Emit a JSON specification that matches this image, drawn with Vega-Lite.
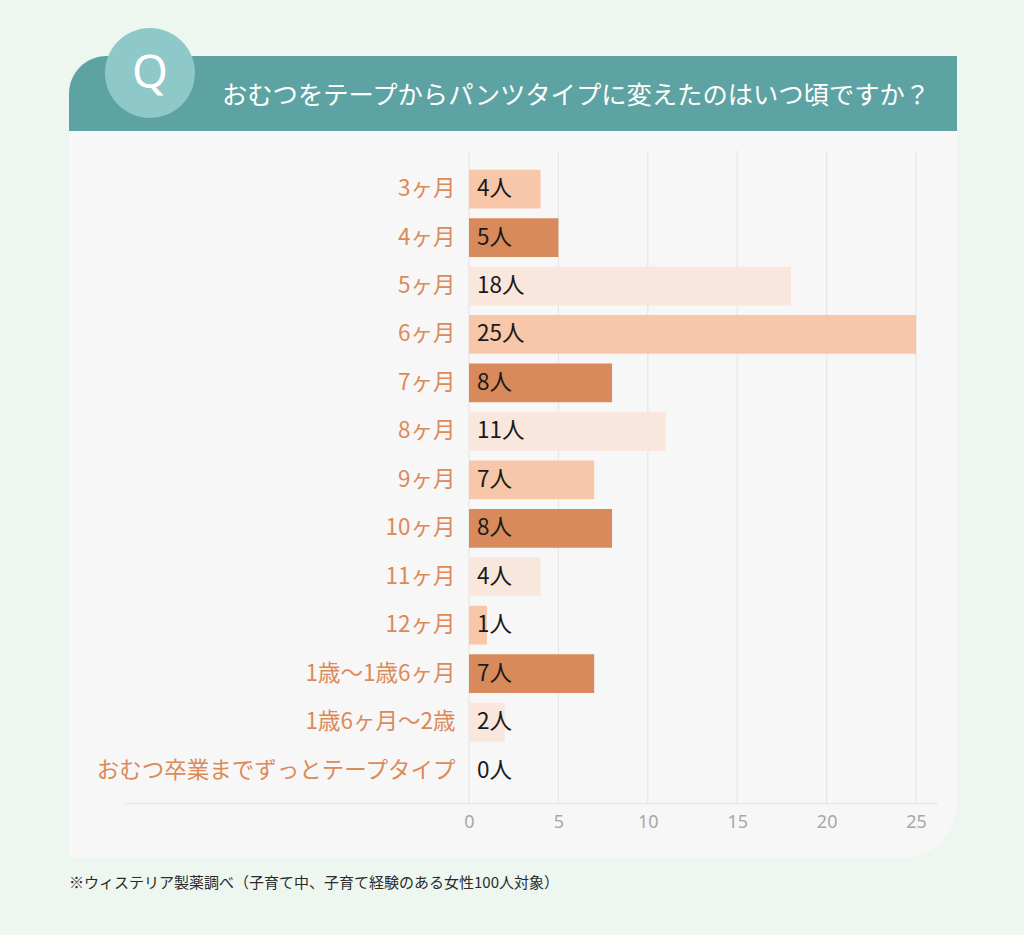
{
  "$schema": "https://vega.github.io/schema/vega-lite/v6.json",
  "autosize": {"type": "pad"},
  "padding": {"left": 69, "top": 27, "right": 67, "bottom": 0},
  "background": "#eef6f0",
  "config": {
    "view": {"stroke": null},
    "font": "Noto Sans CJK JP",
    "text": {"font": "Noto Sans CJK JP"}
  },
  "bounds": "flush",
  "spacing": 0,
  "resolve": {"scale": {"x": "independent", "y": "independent"}},
  "vconcat": [
    {
      "width": 888,
      "height": 113,
      "data": {"values": [{"q": "Q", "title": "おむつをテープからパンツタイプに変えたのはいつ頃ですか？"}]},
      "layer": [
        {
          "mark": {"type": "rect", "color": "#f7f7f7"},
          "encoding": {
            "x": {"datum": 0, "type": "quantitative", "scale": {"domain": [0, 113]}, "axis": null},
            "x2": {"datum": 113},
            "y": {"datum": 0, "type": "quantitative", "scale": {"domain": [0, 113]}, "axis": null},
            "y2": {"datum": 11}
          }
        },
        {
          "mark": {"type": "rect", "color": "#5ea3a3", "cornerRadiusTopLeft": 60},
          "encoding": {
            "x": {"datum": 0, "type": "quantitative", "scale": {"domain": [0, 113]}, "axis": null},
            "x2": {"datum": 113},
            "y": {"datum": 10, "type": "quantitative", "scale": {"domain": [0, 113]}, "axis": null},
            "y2": {"datum": 85}
          }
        },
        {
          "mark": {"type": "point", "shape": "circle", "filled": true, "color": "#8fc8c8", "opacity": 1, "size": 8100},
          "encoding": {
            "x": {"datum": 10.3, "type": "quantitative", "scale": {"domain": [0, 113]}, "axis": null},
            "y": {"datum": 68, "type": "quantitative", "scale": {"domain": [0, 113]}, "axis": null}
          }
        },
        {
          "mark": {"type": "text", "color": "#ffffff", "fontSize": 46, "font": "Noto Sans", "align": "center", "baseline": "middle", "dy": 1},
          "encoding": {
            "x": {"datum": 10.3, "type": "quantitative", "scale": {"domain": [0, 113]}, "axis": null},
            "y": {"datum": 68, "type": "quantitative", "scale": {"domain": [0, 113]}, "axis": null},
            "text": {"field": "q"}
          }
        },
        {
          "mark": {"type": "text", "color": "#ffffff", "fontSize": 25.3, "align": "left", "baseline": "middle"},
          "encoding": {
            "x": {"datum": 19.47, "type": "quantitative", "scale": {"domain": [0, 113]}, "axis": null},
            "y": {"datum": 45.5, "type": "quantitative", "scale": {"domain": [0, 113]}, "axis": null},
            "text": {"field": "title"}
          }
        }
      ]
    },
    {
      "width": 888,
      "height": 717,
      "data": {"values": [
        {"label": "3ヶ月", "n": 4},
        {"label": "4ヶ月", "n": 5},
        {"label": "5ヶ月", "n": 18},
        {"label": "6ヶ月", "n": 25},
        {"label": "7ヶ月", "n": 8},
        {"label": "8ヶ月", "n": 11},
        {"label": "9ヶ月", "n": 7},
        {"label": "10ヶ月", "n": 8},
        {"label": "11ヶ月", "n": 4},
        {"label": "12ヶ月", "n": 1},
        {"label": "1歳〜1歳6ヶ月", "n": 7},
        {"label": "1歳6ヶ月〜2歳", "n": 2},
        {"label": "おむつ卒業までずっとテープタイプ", "n": 0}
      ]},
      "layer": [
        {
          "data": {"values": [{}]},
          "mark": {"type": "rect", "color": "#f7f7f7", "cornerRadiusBottomRight": 55},
          "encoding": {}
        },
        {
          "data": {"values": [{"t": 0}, {"t": 5}, {"t": 10}, {"t": 15}, {"t": 20}, {"t": 25}]},
          "mark": {"type": "rule", "color": "#e6e6e6", "strokeWidth": 1.2},
          "encoding": {
            "x": {"field": "t", "type": "quantitative"},
            "y": {"datum": "3ヶ月", "type": "nominal", "bandPosition": -0.49},
            "y2": {"datum": "おむつ卒業までずっとテープタイプ", "bandPosition": 1.35}
          }
        },
        {
          "data": {"values": [{}]},
          "mark": {"type": "rule", "color": "#e8e8e8", "strokeWidth": 1.5},
          "encoding": {
            "x": {"datum": -19.24, "type": "quantitative"},
            "x2": {"datum": 26.2},
            "y": {"datum": "おむつ卒業までずっとテープタイプ", "type": "nominal", "bandPosition": 1.35}
          }
        },
        {
          "mark": {"type": "bar"},
          "encoding": {
            "x": {"field": "n", "type": "quantitative"},
            "y": {"field": "label", "type": "nominal"},
            "color": {
              "field": "label",
              "type": "nominal",
              "sort": null,
              "legend": null,
              "scale": {
                "domain": ["3ヶ月", "4ヶ月", "5ヶ月", "6ヶ月", "7ヶ月", "8ヶ月", "9ヶ月", "10ヶ月", "11ヶ月", "12ヶ月", "1歳〜1歳6ヶ月", "1歳6ヶ月〜2歳", "おむつ卒業までずっとテープタイプ"],
                "range": ["#f8c6a8", "#d98a5b", "#f9e6dc", "#f8c6a8", "#d98a5b", "#f9e6dc", "#f8c6a8", "#d98a5b", "#f9e6dc", "#f8c6a8", "#d98a5b", "#f9e6dc", "#f8c6a8"]
              }
            }
          }
        },
        {
          "transform": [{"calculate": "datum.n + '人'", "as": "lbl"}],
          "mark": {"type": "text", "align": "left", "baseline": "middle", "dx": 8, "fontSize": 22.5, "color": "#1a1a1a"},
          "encoding": {
            "x": {"datum": 0, "type": "quantitative"},
            "y": {"field": "label", "type": "nominal"},
            "text": {"field": "lbl"}
          }
        }
      ],
      "encoding": {
        "x": {
          "type": "quantitative",
          "scale": {"domain": [-22.37, 27.29], "nice": false, "zero": false},
          "axis": {
            "values": [0, 5, 10, 15, 20, 25],
            "grid": false, "domain": false, "ticks": false,
            "title": null, "zindex": 2,
            "offset": -36, "labelPadding": 0,
            "labelColor": "#a8a8a8", "labelFontSize": 18, "labelFont": "Noto Sans",
            "labelBaseline": "middle"
          }
        },
        "y": {
          "type": "nominal",
          "sort": null,
          "scale": {
            "domain": ["3ヶ月", "4ヶ月", "5ヶ月", "6ヶ月", "7ヶ月", "8ヶ月", "9ヶ月", "10ヶ月", "11ヶ月", "12ヶ月", "1歳〜1歳6ヶ月", "1歳6ヶ月〜2歳", "おむつ卒業までずっとテープタイプ"],
            "paddingInner": 0.2, "paddingOuter": 1, "align": 0.297
          },
          "axis": {
            "offset": -400, "domain": false, "ticks": false, "grid": false,
            "title": null, "labelPadding": 14, "labelLimit": 0, "zindex": 2,
            "labelFontSize": 22.5, "labelColor": "#dc8a58"
          }
        }
      }
    },
    {
      "width": 888,
      "height": 78,
      "data": {"values": [{"note": "※ウィステリア製薬調べ（子育て中、子育て経験のある女性100人対象）"}]},
      "mark": {"type": "text", "align": "left", "baseline": "middle", "fontSize": 15, "color": "#2a2a2a"},
      "encoding": {
        "x": {"datum": 0, "type": "quantitative", "scale": {"domain": [0, 1]}, "axis": null},
        "y": {"datum": 0.679, "type": "quantitative", "scale": {"domain": [0, 1]}, "axis": null},
        "text": {"field": "note"}
      }
    }
  ]
}
